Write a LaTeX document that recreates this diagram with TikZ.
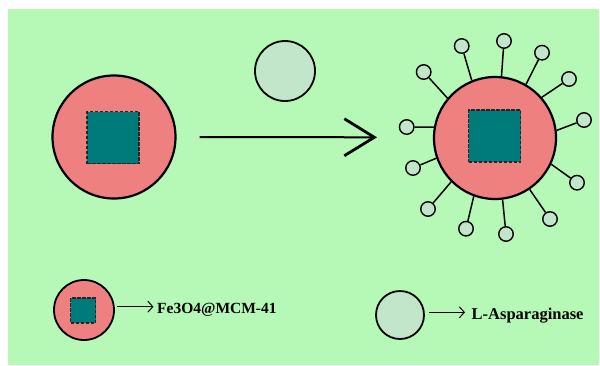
\documentclass[tikz,border=0pt]{standalone}
\usepackage{fontspec}
\setmainfont{Liberation Serif}
\usetikzlibrary{arrows.meta}
\definecolor{bg}{RGB}{182,248,182}
\definecolor{pinkc}{RGB}{238,128,128}
\definecolor{tealc}{RGB}{0,123,123}
\definecolor{enz}{RGB}{193,230,201}
\begin{document}
\begin{tikzpicture}[x=1pt,y=-1pt,
  particle/.style={circle,draw=black,fill=pinkc,line width=2.2pt,inner sep=0pt},
  core/.style={rectangle,draw=black!85,fill=tealc,line width=1.1pt,inner sep=0pt,dash pattern=on 3.5pt off 1.5pt},
  enzyme/.style={circle,draw=black,fill=enz,line width=1.8pt,inner sep=0pt},
  lolli/.style={circle,draw=black,fill=enz,line width=1.4pt,inner sep=0pt,minimum size=14.5pt},
  stick/.style={line width=1.5pt},
  bigarrow/.style={line width=2pt,-{Straight Barb[length=30pt,width=37pt,line width=2.8pt]}},
  legarrow/.style={line width=1pt,-{Straight Barb[length=5pt,width=11pt,line width=1pt]}},
  label/.style={anchor=base west,inner sep=0pt,font=\bfseries}
]
\useasboundingbox (0,0) rectangle (600,365);
\fill[white] (0,0) rectangle (600,365);
\fill[bg] (8,9) rectangle (599,365);

% left particle
\node[particle,minimum size=123pt] (P1) at (114,137) {};
\node[core,minimum size=52pt] (C1) at (113,137.5) {};

% free enzyme
\node[enzyme,minimum size=60pt] (E1) at (285,71) {};

% main arrow
\draw[bigarrow] ([xshift=23pt]P1.east) -- ([xshift=-57pt,yshift=-0.3pt]P1.east -| 434,0);

% right particle with enzymes
\node[particle,minimum size=122pt] (R) at (495,138) {};
\node[core,minimum size=52pt] (C2) at (494.5,136) {};
\foreach \i/\x/\y/\a in {1/461.7/46/112.7, 2/504/41/84, 3/542/52.7/60.6, 4/569/79/41.8,
  5/584/120/7.6, 6/577/182.7/-25.5, 7/550/219/-56, 8/506/234/-83, 9/466/228.7/-110,
  10/428/209/-135.8, 11/413/168/-161, 12/406.7/127/170, 13/423.7/72/140.6}{
  \node[lolli] (L\i) at (\x,\y) {};
  \draw[stick] (R.\a) -- (L\i);
}

% legend
\node[particle,line width=1.8pt,minimum size=60pt] (LP) at (84,310) {};
\node[core,minimum size=25pt] (LC) at (83,310.5) {};
\node[label,font=\fontsize{15.5}{18}\selectfont\bfseries] (T1) at (157,313.3) {Fe3O4@MCM-41};
\draw[legarrow] ([shift={(2.5pt,3.3pt)}]LP.east) -- ([shift={(-3.5pt,6.6pt)}]T1.base west);

\node[enzyme,minimum size=48pt] (LE) at (400,315) {};
\node[label,font=\fontsize{16.5}{19}\selectfont\bfseries] (T2) at (471.5,319) {L-Asparaginase};
\draw[legarrow] ([shift={(4.3pt,2.7pt)}]LE.east) -- ([shift={(-6.5pt,6.7pt)}]T2.base west);
\end{tikzpicture}
\end{document}
